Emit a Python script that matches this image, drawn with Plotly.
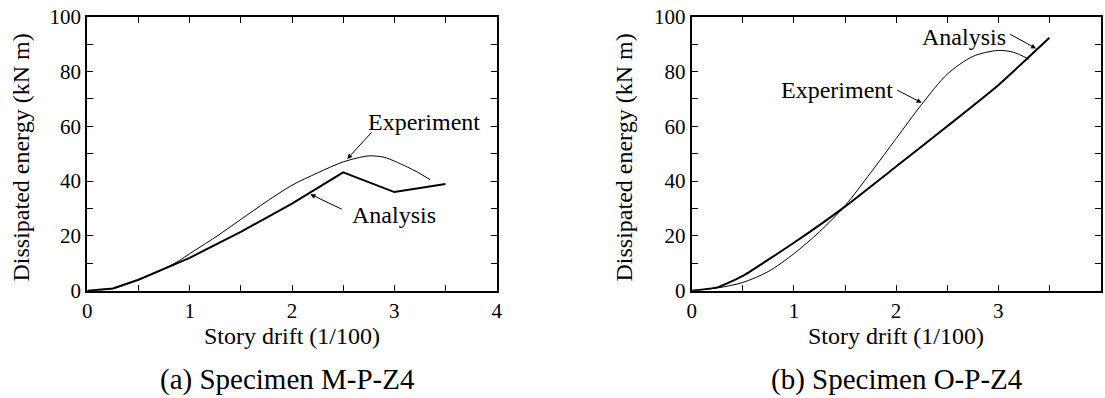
import plotly.graph_objects as go

# ---- Data ----
# (a) Specimen M-P-Z4
a_exp_x = [0, 0.25, 0.5, 0.75, 0.9, 1.0, 1.25, 1.5, 1.75, 2.0, 2.25, 2.5, 2.75, 2.9, 3.0, 3.2, 3.35]
a_exp_y = [0, 0.8, 4.0, 8.0, 11.0, 13.5, 19.5, 26.0, 32.5, 38.5, 43.0, 47.0, 49.2, 48.7, 47.3, 43.8, 40.5]
a_ana_x = [0, 0.25, 0.5, 0.75, 1.0, 1.5, 2.0, 2.5, 3.0, 3.5]
a_ana_y = [0, 0.8, 4.0, 8.0, 12.0, 21.5, 31.8, 43.2, 36.0, 38.9]

# (b) Specimen O-P-Z4
b_exp_x = [0, 0.25, 0.5, 0.75, 1.0, 1.25, 1.5, 1.75, 2.0, 2.25, 2.5, 2.75, 3.0, 3.15, 3.3]
b_exp_y = [0, 1.0, 3.0, 7.0, 13.5, 21.5, 31.0, 43.0, 55.5, 68.0, 79.0, 85.5, 87.7, 87.0, 84.5]
b_ana_x = [0, 0.25, 0.5, 1.0, 1.5, 2.0, 2.5, 3.0, 3.5]
b_ana_y = [0, 1.2, 5.4, 17.5, 30.7, 45.3, 60.0, 75.0, 92.3]

x_ticks = [0, 0.5, 1, 1.5, 2, 2.5, 3, 3.5, 4]
x_ticktext = ["0", "", "1", "", "2", "", "3", "", "4"]
y_ticks = [0, 10, 20, 30, 40, 50, 60, 70, 80, 90, 100]
y_ticktext = ["0", "", "20", "", "40", "", "60", "", "80", "", "100"]
x_title = "Story drift (1/100)"
y_title = "Dissipated energy (kN m)"
subtitles = ["(a) Specimen M-P-Z4", "(b) Specimen O-P-Z4"]

FONT = "Liberation Serif"
W, H = 1105, 398

left_dom = [87.3 / W, 496.7 / W]
right_dom = [691.7 / W, 1100.5 / W]
y_dom = [1 - 290.7 / H, 1 - 16.7 / H]

fig = go.Figure()
fig.add_trace(go.Scatter(x=a_exp_x, y=a_exp_y, mode="lines", line=dict(color="black", width=1, shape="spline", smoothing=0.8),
                         xaxis="x", yaxis="y", showlegend=False))
fig.add_trace(go.Scatter(x=a_ana_x, y=a_ana_y, mode="lines", line=dict(color="black", width=2),
                         xaxis="x", yaxis="y", showlegend=False))
fig.add_trace(go.Scatter(x=b_exp_x, y=b_exp_y, mode="lines", line=dict(color="black", width=1, shape="spline", smoothing=0.8),
                         xaxis="x2", yaxis="y2", showlegend=False))
fig.add_trace(go.Scatter(x=b_ana_x, y=b_ana_y, mode="lines", line=dict(color="black", width=2, shape="spline", smoothing=0.4),
                         xaxis="x2", yaxis="y2", showlegend=False))

def xax(dom, anchor):
    return dict(domain=dom, anchor=anchor, range=[0, 4], tickmode="array", tickvals=x_ticks, ticktext=x_ticktext,
                ticks="inside", ticklen=6, tickwidth=1.2, tickcolor="black", showline=True, linecolor="black",
                linewidth=2, mirror="ticks", showgrid=False, zeroline=False,
                tickfont=dict(family=FONT, size=21, color="black"))

def yax(anchor):
    return dict(domain=y_dom, anchor=anchor, range=[0, 100], tickmode="array", tickvals=y_ticks, ticktext=y_ticktext,
                ticks="inside", ticklen=6, tickwidth=1.2, tickcolor="black", showline=True, linecolor="black",
                linewidth=2, mirror="ticks", showgrid=False, zeroline=False,
                tickfont=dict(family=FONT, size=21, color="black"))

fig.update_layout(
    width=W, height=H, margin=dict(l=0, r=0, t=0, b=0, autoexpand=False),
    paper_bgcolor="white", plot_bgcolor="white",
    font=dict(family=FONT, size=21, color="black"),
    xaxis=xax(left_dom, "y"), yaxis=yax("x"),
    xaxis2=xax(right_dom, "y2"), yaxis2=yax("x2"),
)

ann = []
for dom, ytx, sub, subx in [(left_dom, 20, subtitles[0], 287), (right_dom, 623, subtitles[1], 896.5)]:
    cx = (dom[0] + dom[1]) / 2
    ann.append(dict(text=x_title, x=cx, y=1 - 336 / H, xref="paper", yref="paper", showarrow=False,
                    xanchor="center", yanchor="middle", font=dict(family=FONT, size=24, color="black")))
    ann.append(dict(text=y_title, x=ytx / W, y=1 - 157.5 / H, xref="paper", yref="paper", showarrow=False,
                    textangle=-90, xanchor="center", yanchor="middle", font=dict(family=FONT, size=24, color="black")))
    ann.append(dict(text=sub, x=subx / W, y=1 - 379 / H, xref="paper", yref="paper", showarrow=False,
                    xanchor="center", yanchor="middle", font=dict(family=FONT, size=29, color="black")))

def label(text, x, y, xr, yr):
    return dict(text=text, x=x, y=y, xref=xr, yref=yr, showarrow=False, xanchor="center", yanchor="middle",
                font=dict(family=FONT, size=24, color="black"))

def arrow(tx, ty, hx, hy, xr, yr):
    return dict(text="", x=hx, y=hy, ax=tx, ay=ty, xref=xr, yref=yr, axref=xr, ayref=yr, showarrow=True,
                arrowhead=2, arrowsize=1, arrowwidth=1, arrowcolor="black", standoff=0, startstandoff=0)

ann += [
    label("Experiment", 3.29, 61.6, "x", "y"),
    arrow(2.79, 58.3, 2.54, 48.1, "x", "y"),
    label("Analysis", 3.0, 27.6, "x", "y"),
    arrow(2.50, 29.5, 2.18, 35.2, "x", "y"),
    label("Analysis", 2.666, 92.7, "x2", "y2"),
    arrow(3.10, 93.9, 3.37, 88.4, "x2", "y2"),
    label("Experiment", 1.417, 73.2, "x2", "y2"),
    arrow(1.995, 73.5, 2.25, 68.6, "x2", "y2"),
]
fig.update_layout(annotations=ann)

fig.write_html("out.html")
